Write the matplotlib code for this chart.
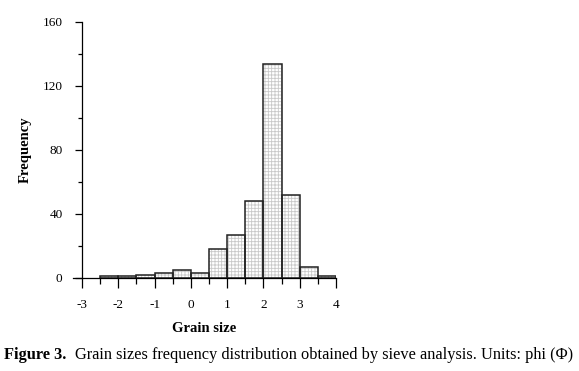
import numpy as np
import matplotlib.pyplot as plt
from matplotlib.ticker import MultipleLocator

plt.rcParams['font.family'] = ['Liberation Serif', 'DejaVu Serif']
plt.rcParams['hatch.linewidth'] = 0.6

# Sieve analysis: bin left edges (phi) and counts
bin_left = [-2.5, -2.0, -1.5, -1.0, -0.5, 0.0, 0.5, 1.0, 1.5, 2.0, 2.5, 3.0, 3.5]
counts = [1, 1, 2, 3, 5, 3, 18, 27, 48, 134, 52, 7, 1]
bin_width = 0.5
x_ticks = [-3, -2, -1, 0, 1, 2, 3, 4]
y_ticks = [0, 40, 80, 120, 160]

fig = plt.figure(figsize=(5.79, 3.71), dpi=100)
ax = fig.add_axes([73 / 579, 93 / 371, 263 / 579, 256 / 371])

# hatched fill, then dark outlines on top
ax.bar(bin_left, counts, width=bin_width, align='edge', color='white',
       edgecolor='#c8c8c8', hatch='+++++', linewidth=0)
ax.bar(bin_left, counts, width=bin_width, align='edge', color='none',
       edgecolor='#222222', linewidth=1.1)

ax.set_xlim(-3.25, 4.0)
ax.set_ylim(0, 160)
ax.spines['left'].set_position(('data', -3))
ax.spines['top'].set_visible(False)
ax.spines['right'].set_visible(False)
for s in ['left', 'bottom']:
    ax.spines[s].set_linewidth(0.9)

ax.set_xticks(x_ticks)
ax.set_xticklabels([str(t) for t in x_ticks])
ax.xaxis.set_minor_locator(MultipleLocator(0.5))
ax.set_yticks(y_ticks)
ax.yaxis.set_minor_locator(MultipleLocator(20))
ax.tick_params(axis='x', which='major', direction='out', length=7, width=0.9, labelsize=9.5, pad=8)
ax.tick_params(axis='x', which='minor', direction='out', length=4, width=0.9)
ax.tick_params(axis='y', which='major', direction='out', length=5, width=0.9, labelsize=9.5, pad=9)
ax.tick_params(axis='y', which='minor', direction='out', length=3, width=0.9)

ax.set_xlabel('Grain size', fontsize=10.5, fontweight='bold', labelpad=8)
ax.set_ylabel('Frequency', fontsize=10.5, fontweight='bold', labelpad=8)

fig.text(4 / 579, 1 - 355 / 371, 'Figure 3.', fontsize=11.8, fontweight='bold', va='center')
fig.text(75 / 579, 1 - 355 / 371,
         'Grain sizes frequency distribution obtained by sieve analysis. Units: phi (\u03a6)',
         fontsize=11.8, va='center')

fig.savefig('out.png', dpi=100)
